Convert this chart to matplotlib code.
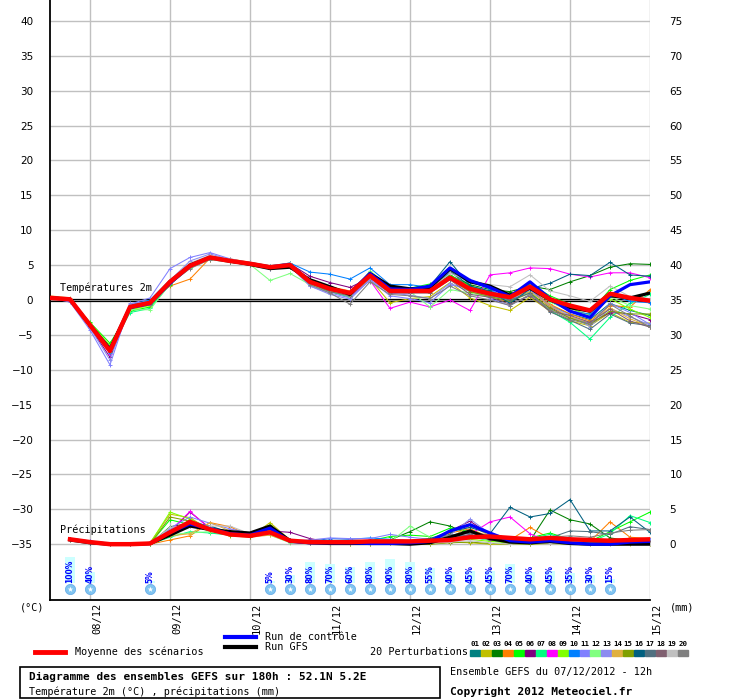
import matplotlib
matplotlib.use("Agg")
import matplotlib.pyplot as plt
from matplotlib.lines import Line2D
from matplotlib.patches import Rectangle
from matplotlib.transforms import offset_copy

# forecast steps (hours after 07/12/2012 12h)
HOURS_T = list(range(0, 181, 6))
HOURS_P = list(range(6, 181, 6))
DAY_HOURS = [12, 36, 60, 84, 108, 132, 156, 180]
DAY_LABELS = ["08/12", "09/12", "10/12", "11/12", "12/12", "13/12", "14/12", "15/12"]

MEMBER_COLORS = ["#008080", "#c0c000", "#008000", "#ff8000", "#00ff00",
                 "#800080", "#00ff80", "#ff00ff", "#80ff00", "#0080ff",
                 "#8080ff", "#80ff80", "#8c8cf0", "#e0b040", "#80a000",
                 "#006080", "#507080", "#806070", "#c0c0c0", "#808080"]

# temperature 2m (°C)
T_MEAN = [0.3, 0.1, -3.6, -7.3, -1.0, -0.4, 2.6, 4.9, 6.1, 5.6, 5.2, 4.7, 5.0, 2.6, 1.6, 1.0,
          3.5, 1.3, 1.3, 1.3, 3.2, 1.6, 0.9, 0.4, 1.9, 0.1, -0.8, -1.5, 0.9, 0.3, -0.1]
T_CTRL = [0.3, 0.1, -3.6, -7.2, -1.1, -0.5, 2.4, 4.9, 6.1, 5.6, 5.2, 4.7, 5.1, 2.6, 1.6, 1.0,
          3.8, 1.6, 1.5, 2.0, 4.6, 2.8, 1.8, 0.5, 2.6, 0.2, -1.6, -2.5, 0.6, 2.2, 2.6]
T_GFS = [0.3, 0.1, -3.6, -7.0, -1.0, -0.4, 2.6, 5.0, 6.1, 5.6, 5.1, 4.5, 4.7, 2.9, 1.9, 0.8,
         3.8, 2.0, 1.6, 1.8, 4.5, 2.6, 2.0, 0.7, 1.7, 0.0, -1.1, -1.6, 0.6, 0.3, 1.0]
T01 = [0.4, 0.2, -3.5, -7.0, -0.8, -0.2, 2.8, 5.0, 6.3, 5.8, 5.3, 4.9, 5.2, 2.4, 1.3, 0.6,
       3.8, 1.6, 1.5, 1.8, 4.2, 2.0, 1.2, 0.0, 1.5, -0.8, -2.0, -2.8, -0.5, -1.5, -2.2]
T02 = [0.3, 0.0, -3.8, -7.5, -1.2, -0.6, 2.4, 4.6, 5.9, 5.5, 5.0, 4.6, 4.8, 2.2, 1.2, 0.5,
       3.0, -0.4, 0.2, 0.5, 2.5, 0.3, -0.8, -1.5, 0.4, -1.6, -3.0, -3.7, -1.8, -3.2, -3.3]
T03 = [0.2, 0.1, -3.4, -6.8, -1.1, -0.5, 2.7, 5.1, 6.2, 5.7, 5.3, 4.8, 5.1, 2.8, 1.8, 1.2,
       3.6, 1.8, 1.6, 1.9, 3.5, 2.2, 1.5, 1.2, 2.0, 1.5, 2.6, 3.5, 4.7, 5.2, 5.1]
T04 = [0.5, 0.2, -3.7, -7.4, -1.0, -0.2, 2.0, 3.0, 6.0, 5.9, 5.4, 4.9, 5.2, 2.9, 1.9, 1.3,
       3.9, 1.9, 1.4, 1.0, 3.0, 1.2, 0.5, -0.3, 1.5, -0.6, -2.0, -3.0, -0.8, -1.0, 1.5]
T05 = [0.3, 0.1, -3.2, -6.2, -1.6, -1.0, 2.2, 4.7, 6.0, 5.5, 5.1, 4.6, 4.9, 2.5, 1.4, 0.8,
       3.4, 1.2, 1.7, 2.3, 3.6, 2.0, 1.0, 0.4, 2.3, 0.6, -0.6, -1.8, 1.5, 2.8, 3.6]
T06 = [0.2, 0.0, -3.9, -8.2, -1.3, -0.4, 2.6, 4.8, 6.1, 5.7, 5.2, 4.8, 5.2, 3.4, 2.5, 1.8,
       3.2, 1.1, 1.0, 1.3, 3.0, 1.5, 1.2, 0.5, 1.5, -1.0, -2.6, -3.3, -1.8, -2.0, -2.8]
T07 = [0.3, 0.1, -3.6, -7.1, -1.8, -1.2, 2.3, 4.6, 5.9, 5.4, 5.0, 4.6, 4.9, 2.3, 1.2, 0.4,
       3.6, 1.0, 1.3, 1.5, 3.1, 1.4, 0.8, 0.2, 1.2, -1.5, -3.2, -5.6, -2.5, -0.5, 0.8]
T08 = [0.4, 0.2, -3.7, -7.7, -0.9, -0.3, 2.5, 4.9, 6.2, 5.6, 5.2, 4.7, 5.0, 2.4, 1.4, 0.5,
       2.8, -1.2, -0.3, -1.0, 0.0, -1.5, 3.6, 3.9, 4.6, 4.5, 3.7, 3.3, 3.9, 3.9, 3.2]
T09 = [0.3, 0.1, -3.3, -6.5, -1.4, -0.8, 2.5, 4.8, 6.0, 5.6, 5.1, 4.7, 5.1, 2.7, 1.5, 0.7,
       3.3, 1.5, 1.3, 1.6, 3.3, 1.7, 1.0, 0.5, 2.5, 0.2, -1.2, -2.2, 0.2, -1.3, -2.5]
T10 = [0.4, 0.2, -3.8, -7.6, -0.7, 0.0, 2.9, 5.2, 6.3, 5.8, 5.4, 4.9, 5.3, 4.0, 3.7, 3.0,
       4.6, 2.2, 2.2, 1.8, 3.9, 2.6, 1.6, -0.4, 1.5, -0.2, -1.6, -2.0, 0.8, -0.2, -0.4]
T11 = [0.3, -0.3, -4.3, -9.3, -0.6, 0.3, 4.5, 6.1, 6.8, 5.9, 5.3, 4.5, 4.8, 2.0, 1.0, 0.3,
       2.9, 0.6, 0.2, -0.4, 2.2, 1.7, 0.2, -0.8, 0.8, -1.2, -2.5, -3.4, -0.5, -1.8, -3.5]
T12 = [0.3, 0.1, -3.4, -6.7, -1.4, -1.4, 2.3, 4.6, 5.8, 5.4, 5.1, 2.8, 3.8, 2.2, 1.3, 0.5,
       4.2, 1.8, 1.2, -1.0, 1.5, 1.0, 0.4, 0.0, 1.8, -0.3, -1.5, -2.3, 0.5, -0.8, -1.3]
T13 = [0.2, -0.1, -4.0, -8.6, -0.5, -0.2, 2.8, 5.6, 6.6, 5.8, 5.2, 4.7, 5.0, 2.0, 0.8, 0.1,
       2.9, 1.0, 0.7, 0.2, 2.4, 1.2, 0.6, 0.0, 1.4, -0.8, -2.2, -3.8, -1.2, -2.4, -3.6]
T14 = [0.6, 0.3, -3.6, -7.2, -0.9, -0.4, 2.6, 4.7, 5.8, 5.7, 5.3, 4.8, 5.2, 2.6, 1.6, 1.0,
       3.6, 1.6, 1.4, 1.3, 3.1, 1.4, 0.8, 0.3, 1.2, -0.9, -2.4, -3.2, -1.1, -2.7, -3.8]
T15 = [0.4, 0.1, -3.5, -7.0, -1.1, -0.5, 2.6, 4.8, 6.0, 5.6, 5.2, 4.7, 5.0, 2.6, 1.5, 0.9,
       3.4, 1.4, 1.2, 1.2, 3.0, 1.2, 0.5, -0.2, 1.0, -1.2, -2.6, -3.5, -1.6, -2.0, -2.0]
T16 = [0.5, 0.2, -3.7, -7.3, -1.0, -0.3, 2.6, 4.9, 6.2, 5.7, 5.2, 4.8, 5.3, 2.8, 1.8, 1.1,
       3.9, 1.6, 1.4, 2.0, 5.5, 2.0, 1.3, -0.5, 1.6, 2.4, 3.7, 3.5, 5.4, 3.6, 3.4]
T17 = [0.4, 0.1, -3.6, -7.2, -1.0, -0.4, 2.7, 5.0, 6.1, 5.6, 5.1, 4.7, 5.0, 2.5, 1.4, 0.8,
       3.4, 1.3, 1.2, 1.4, 4.2, 1.6, 0.7, 0.0, 1.0, -1.7, -2.9, -4.2, -2.0, -3.3, -3.7]
T18 = [0.3, 0.0, -3.7, -7.5, -1.2, -0.6, 2.4, 4.8, 6.0, 5.5, 5.0, 4.6, 4.9, 2.4, 1.2, 0.6,
       3.2, 1.0, 1.0, 1.0, 2.9, 0.8, 0.4, -0.6, 0.6, -1.6, -2.2, -3.2, -1.3, -3.0, -3.9]
T19 = [0.4, 0.1, -3.5, -7.1, -1.0, -0.2, 2.9, 5.3, 6.4, 5.8, 5.4, 4.9, 5.3, 2.7, 1.6, 0.9,
       3.3, 1.4, 1.3, 1.5, 3.8, 2.8, 2.2, 1.9, 3.6, 1.3, 0.6, -0.2, 2.0, 0.5, 0.2]
T20 = [0.3, 0.0, -3.6, -7.4, -1.2, -0.7, 2.3, 4.5, 5.8, 5.4, 5.0, 4.5, 4.8, 2.2, 1.0, -0.6,
       2.6, 0.8, 0.6, 0.2, 2.0, 0.6, 0.0, -0.8, 0.8, -1.4, -2.8, -3.5, -0.6, -2.3, -3.9]

# precipitation (mm per 6h)
P_MEAN = [0.7, 0.3, 0.0, 0.0, 0.1, 1.7, 3.2, 2.1, 1.4, 1.2, 1.7, 0.5, 0.3, 0.3, 0.3,
          0.4, 0.4, 0.4, 0.5, 0.6, 1.0, 1.1, 0.9, 0.7, 0.9, 0.7, 0.6, 0.5, 0.6, 0.7]
P_CTRL = [0.7, 0.3, 0.0, 0.0, 0.1, 1.7, 2.9, 2.2, 1.5, 1.3, 2.3, 0.4, 0.2, 0.2, 0.2,
          0.1, 0.1, 0.2, 0.4, 1.9, 2.8, 1.6, 0.5, 0.3, 0.5, 0.2, 0.0, 0.0, 0.3, 0.4]
P_GFS = [0.6, 0.2, 0.0, 0.0, 0.1, 1.3, 2.6, 2.1, 1.8, 1.6, 2.6, 0.5, 0.2, 0.1, 0.1,
         0.1, 0.1, 0.0, 0.2, 1.0, 1.9, 0.8, 0.3, 0.2, 0.4, 0.1, 0.0, 0.0, 0.0, 0.0]
P01 = [0.6, 0.2, 0.0, 0.0, 0.1, 1.5, 3.5, 2.4, 1.5, 1.2, 1.8, 0.4, 0.2, 0.1, 0.1,
       0.3, 0.5, 0.3, 0.8, 1.4, 1.0, 0.6, 0.3, 0.4, 0.8, 0.5, 0.2, 0.4, 0.6, 0.3]
P02 = [0.7, 0.3, 0.0, 0.0, 0.2, 4.3, 3.8, 2.0, 1.2, 1.0, 3.1, 0.6, 0.2, 0.0, 0.0,
       0.0, 0.1, 0.0, 0.0, 0.3, 0.2, 0.0, 0.0, 0.0, 0.1, 0.0, 0.0, 0.0, 0.0, 0.0]
P03 = [0.6, 0.3, 0.0, 0.0, 0.0, 2.5, 3.0, 2.2, 1.6, 1.4, 2.4, 0.5, 0.2, 0.1, 0.2,
       0.4, 0.6, 1.8, 3.2, 2.6, 1.4, 0.6, 0.2, 0.5, 4.9, 3.5, 2.9, 0.9, 0.5, 0.3]
P04 = [0.8, 0.3, 0.0, 0.0, 0.0, 0.6, 1.2, 3.1, 2.5, 1.2, 1.5, 0.4, 0.2, 0.1, 0.1,
       0.2, 0.3, 0.4, 0.6, 1.6, 2.2, 1.0, 0.6, 2.4, 0.8, 0.3, 0.4, 3.2, 1.0, 0.8]
P05 = [0.7, 0.4, 0.0, 0.0, 0.1, 3.5, 2.8, 2.0, 1.6, 1.3, 2.0, 0.4, 0.3, 0.2, 0.3,
       0.5, 1.1, 1.3, 1.1, 2.3, 1.8, 0.8, 0.6, 0.9, 1.6, 0.7, 0.4, 1.8, 3.2, 4.6]
P06 = [0.6, 0.2, 0.0, 0.0, 0.1, 1.8, 4.6, 2.3, 1.5, 1.3, 1.9, 1.7, 0.8, 0.3, 0.2,
       0.2, 0.3, 0.2, 0.3, 1.9, 3.3, 1.4, 0.5, 0.3, 0.6, 0.2, 0.1, 0.2, 0.4, 0.3]
P07 = [0.7, 0.3, 0.0, 0.0, 0.0, 1.0, 1.8, 1.6, 1.3, 1.4, 1.8, 0.3, 0.1, 0.1, 0.1,
       0.2, 0.3, 0.2, 0.4, 1.0, 1.2, 0.5, 0.2, 0.8, 1.4, 0.6, 0.3, 1.5, 4.1, 3.1]
P08 = [0.8, 0.4, 0.0, 0.0, 0.1, 1.9, 4.7, 2.2, 1.4, 1.0, 1.5, 0.4, 0.2, 0.1, 0.1,
       0.1, 0.2, 0.0, 0.1, 0.6, 1.4, 3.2, 3.9, 1.5, 0.2, 0.4, 0.8, 0.3, 0.5, 0.6]
P09 = [0.6, 0.3, 0.0, 0.0, 0.1, 4.6, 3.6, 2.0, 1.5, 1.2, 2.8, 0.4, 0.2, 0.1, 0.1,
       0.2, 0.2, 0.3, 0.4, 0.6, 0.7, 0.4, 0.2, 0.3, 0.5, 0.3, 0.2, 0.3, 0.4, 0.2]
P10 = [0.7, 0.3, 0.0, 0.0, 0.1, 2.0, 3.3, 2.5, 1.6, 1.3, 1.7, 0.6, 0.4, 0.8, 0.7,
       0.9, 0.7, 0.5, 0.5, 1.0, 1.3, 0.9, 0.6, 0.7, 1.0, 0.5, 0.3, 0.6, 0.7, 0.6]
P11 = [0.7, 0.4, 0.0, 0.0, 0.2, 2.3, 3.9, 3.0, 2.2, 1.6, 1.5, 0.5, 0.6, 0.9, 0.8,
       0.8, 1.4, 1.0, 0.7, 0.8, 1.2, 0.8, 0.5, 0.4, 0.6, 0.4, 0.3, 0.5, 0.8, 0.6]
P12 = [0.6, 0.3, 0.0, 0.0, 0.0, 1.4, 1.6, 1.8, 1.4, 1.2, 1.3, 0.2, 0.1, 0.1, 0.1,
       0.2, 0.3, 2.6, 1.0, 0.9, 1.1, 0.6, 0.3, 0.4, 0.7, 0.4, 0.2, 0.3, 0.3, 0.2]
P13 = [0.7, 0.3, 0.0, 0.0, 0.1, 2.2, 3.1, 2.4, 1.8, 1.2, 1.6, 0.5, 0.3, 0.3, 0.3,
       0.4, 0.6, 0.5, 0.6, 1.3, 3.6, 1.5, 0.6, 0.5, 0.7, 0.5, 0.3, 0.4, 0.5, 0.4]
P14 = [0.8, 0.3, 0.0, 0.0, 0.2, 1.2, 1.5, 3.1, 1.9, 1.0, 1.3, 0.3, 0.2, 0.1, 0.1,
       0.1, 0.2, 0.2, 0.3, 0.8, 2.7, 1.2, 0.4, 0.2, 0.3, 0.1, 0.1, 0.2, 0.3, 0.1]
P15 = [0.6, 0.3, 0.0, 0.0, 0.0, 3.9, 3.3, 2.1, 1.3, 1.1, 2.2, 0.3, 0.1, 0.0, 0.0,
       0.0, 0.1, 0.1, 0.0, 0.2, 0.3, 0.1, 0.0, 0.0, 0.2, 0.0, 0.0, 0.1, 0.1, 0.0]
P16 = [0.7, 0.3, 0.0, 0.0, 0.1, 1.7, 3.0, 2.6, 1.7, 1.4, 2.2, 0.6, 0.4, 0.3, 0.3,
       0.4, 0.5, 0.5, 0.8, 1.8, 2.4, 1.5, 5.3, 3.9, 4.4, 6.4, 1.9, 1.9, 3.9, 1.7]
P17 = [0.6, 0.2, 0.0, 0.0, 0.1, 1.6, 2.6, 2.3, 1.5, 1.3, 1.8, 0.4, 0.2, 0.2, 0.2,
       0.3, 0.4, 0.3, 0.5, 1.1, 1.6, 0.9, 0.4, 0.6, 0.9, 1.9, 1.8, 1.4, 2.5, 2.1]
P18 = [0.7, 0.3, 0.0, 0.0, 0.1, 1.9, 2.9, 2.2, 1.5, 1.2, 1.6, 0.3, 0.2, 0.1, 0.1,
       0.2, 0.3, 0.2, 0.4, 0.9, 1.4, 0.6, 0.3, 0.3, 0.5, 0.2, 0.1, 0.3, 0.6, 0.3]
P19 = [0.6, 0.3, 0.0, 0.0, 0.1, 2.4, 2.7, 2.6, 2.6, 1.5, 1.9, 0.3, 0.1, 0.0, 0.1,
       0.1, 0.2, 0.0, 0.1, 0.3, 0.5, 0.2, 0.0, 0.1, 0.2, 0.0, 0.0, 0.0, 0.1, 0.0]
P20 = [0.7, 0.3, 0.0, 0.0, 0.1, 1.8, 3.0, 2.3, 1.6, 1.3, 1.7, 0.4, 0.2, 0.1, 0.1,
       0.2, 0.4, 0.3, 0.5, 1.3, 1.7, 1.3, 0.8, 0.7, 1.0, 1.2, 1.0, 1.6, 2.0, 2.1]

# probability of snow (%)
SNOW_HOURS = [6, 12, 30, 66, 72, 78, 84, 90, 96, 102, 108, 114, 120, 126, 132, 138, 144,
              150, 156, 162, 168]
SNOW_PCT = [100, 40, 5, 5, 30, 80, 70, 60, 80, 90, 80, 55, 40, 45, 45, 70, 40, 45, 35, 30, 15]

T_MEMBERS = [T01, T02, T03, T04, T05, T06, T07, T08, T09, T10,
             T11, T12, T13, T14, T15, T16, T17, T18, T19, T20]
P_MEMBERS = [P01, P02, P03, P04, P05, P06, P07, P08, P09, P10,
             P11, P12, P13, P14, P15, P16, P17, P18, P19, P20]

PRECIP_OFFSET = 35  # precip 0 mm drawn at -35 on the temperature scale
MONO = "DejaVu Sans Mono"
W, H = 740, 700


def fx(x):
    return x / W


def fy(y):
    return 1 - y / H


def shift(vals):
    return [v - PRECIP_OFFSET for v in vals]


fig = plt.figure(figsize=(7.4, 7.0), dpi=100)
ax = fig.add_axes([fx(50), fy(600), 600 / W, 600 / H])
ax.set_xlim(0, 180)
ax.set_ylim(-43, 43)

# grid
for y in range(-35, 41, 5):
    ax.axhline(y, color="#c0c0c0", lw=1, zorder=0)
for h in DAY_HOURS:
    ax.axvline(h, color="#c0c0c0", lw=1, zorder=0)
ax.axhline(0.17, color="black", lw=0.9, zorder=1)
ax.axhline(-0.17, color="black", lw=0.9, zorder=1)

# perturbations
for col, t, p in zip(MEMBER_COLORS, T_MEMBERS, P_MEMBERS):
    ax.plot(HOURS_T, t, color=col, lw=0.75, marker="+", ms=3, mew=0.7, zorder=2)
    ax.plot(HOURS_P, shift(p), color=col, lw=0.75, marker="+", ms=3, mew=0.7, zorder=2)

ax.plot(HOURS_T, T_GFS, color="black", lw=2.3, zorder=3)
ax.plot(HOURS_P, shift(P_GFS), color="black", lw=2.3, zorder=3)
ax.plot(HOURS_T, T_CTRL, color="#0000ff", lw=2.3, zorder=3)
ax.plot(HOURS_P, shift(P_CTRL), color="#0000ff", lw=2.3, zorder=3)
ax.plot(HOURS_T, T_MEAN, color="#ff0000", lw=3.2, zorder=4)
ax.plot(HOURS_P, shift(P_MEAN), color="#ff0000", lw=3.2, zorder=4)

# snow probability row
ax.bar(SNOW_HOURS, [p * 0.0373 for p in SNOW_PCT], bottom=-40.5, width=3,
       color="#ccffff", zorder=1)
ax.scatter(SNOW_HOURS, [-41.4] * len(SNOW_HOURS), s=55, color="#80c4f0",
           edgecolors="#60a8e8", linewidths=0.5, zorder=2)
ax.scatter(SNOW_HOURS, [-41.4] * len(SNOW_HOURS), s=18, marker="*", color="white",
           linewidths=0, zorder=3)
for h, p in zip(SNOW_HOURS, SNOW_PCT):
    ax.text(h, -40.6, f"{p}%", rotation=90, ha="center", va="bottom", fontsize=5.5,
            color="#0000ff", fontweight="bold", zorder=4)

# axes styling
for side in ["top", "right"]:
    ax.spines[side].set_visible(False)
ax.spines["left"].set_linewidth(1.3)
ax.spines["bottom"].set_linewidth(1.3)
ax.set_yticks(range(-35, 41, 5))
ax.tick_params(axis="y", length=0, pad=12, labelsize=7.5)
ax.set_xticks([])

ax2 = ax.twinx()
ax2.set_ylim(-43 + PRECIP_OFFSET, 43 + PRECIP_OFFSET)
ax2.set_yticks(range(0, 76, 5))
ax2.tick_params(axis="y", length=0, pad=14, labelsize=7.5)
for s in ax2.spines.values():
    s.set_visible(False)

trans = offset_copy(ax.get_xaxis_transform(), fig=fig, x=7, y=-3, units="dots")
for h, lab in zip(DAY_HOURS, DAY_LABELS):
    ax.text(h, 0, lab, transform=trans, rotation=90, ha="center", va="top",
            family=MONO, fontsize=7.5)

# labels inside / around plot
fig.text(fx(60), fy(288), "Températures 2m", family=MONO, fontsize=7.3, va="center")
fig.text(fx(60), fy(530), "Précipitations", family=MONO, fontsize=7.3, va="center")
fig.text(fx(20), fy(607), "(°C)", family=MONO, fontsize=7.3, va="center")
fig.text(fx(670), fy(607), "(mm)", family=MONO, fontsize=7.3, va="center")

# legend
fig.add_artist(Line2D([fx(35), fx(65)], [fy(652), fy(652)], color="#ff0000", lw=3.5))
fig.text(fx(75), fy(652), "Moyenne des scénarios", family=MONO, fontsize=7.3, va="center")
fig.add_artist(Line2D([fx(225), fx(256)], [fy(637), fy(637)], color="#0000ff", lw=3))
fig.add_artist(Line2D([fx(225), fx(256)], [fy(647), fy(647)], color="black", lw=3))
fig.text(fx(265), fy(637), "Run de contrôle", family=MONO, fontsize=7.3, va="center")
fig.text(fx(265), fy(647), "Run GFS", family=MONO, fontsize=7.3, va="center")
fig.text(fx(370), fy(652), "20 Perturbations", family=MONO, fontsize=7.3, va="center")
for i, col in enumerate(MEMBER_COLORS):
    x0 = 470 + i * 10.95
    fig.add_artist(Rectangle((fx(x0), fy(656)), 10 / W, 6 / H, color=col,
                             transform=fig.transFigure))
    fig.text(fx(x0 + 5), fy(644), f"{i + 1:02d}", family=MONO, fontsize=5.3,
             ha="center", va="center", fontweight="bold")

# caption box
fig.add_artist(Rectangle((fx(20), fy(698)), 420 / W, 31 / H, fill=False,
                         edgecolor="black", lw=1.2, transform=fig.transFigure))
fig.text(fx(29), fy(677), "Diagramme des ensembles GEFS sur 180h : 52.1N 5.2E",
         family=MONO, fontsize=8, fontweight="bold", va="center")
fig.text(fx(29), fy(692), "Température 2m (°C) , précipitations (mm)",
         family=MONO, fontsize=7.3, va="center")
fig.text(fx(450), fy(672), "Ensemble GEFS du 07/12/2012 - 12h",
         family=MONO, fontsize=7.3, va="center")
fig.text(fx(450), fy(692), "Copyright 2012 Meteociel.fr",
         family=MONO, fontsize=8, fontweight="bold", va="center")

fig.savefig("out.png", dpi=100)
